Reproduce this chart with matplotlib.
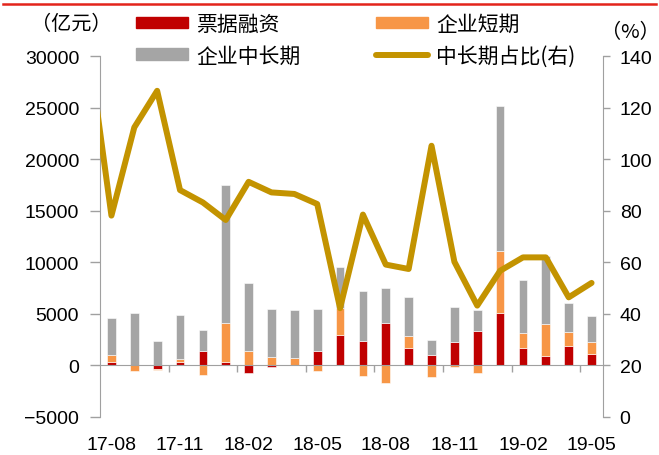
import numpy as np
import matplotlib
matplotlib.use("Agg")
import matplotlib.pyplot as plt
import matplotlib.patches as mpatches
from matplotlib.lines import Line2D

plt.rcParams['font.family'] = ['Liberation Sans', 'Noto Sans CJK SC', 'DejaVu Sans']

# Monthly new loans (亿元)
months = ["17-08", "17-09", "17-10", "17-11", "17-12", "18-01", "18-02", "18-03",
          "18-04", "18-05", "18-06", "18-07", "18-08", "18-09", "18-10", "18-11",
          "18-12", "19-01", "19-02", "19-03", "19-04", "19-05"]
bill_financing = [300, 20, -390, 330, 1360, 320, -780, -160, 30, 1360, 2920, 2370,
                  4090, 1690, 1050, 2310, 3340, 5130, 1650, 910, 1850, 1100]
short_term = [700, -550, -100, 250, -970, 3770, 1400, 810, 720, -550, 2600, -1040,
              -1750, 1130, -1120, -180, -780, 5940, 1530, 3150, 1430, 1210]
medium_long = [3640, 5030, 2340, 4300, 2080, 13370, 6590, 4640, 4670, 4090, 4030, 4870,
               3440, 3830, 1450, 3340, 2020, 14060, 5130, 6590, 2820, 2530]

# Share of medium/long-term loans (%), series starts one month earlier
ratio_months = ["17-07"] + months
ratio = [143.4, 78.1, 112.3, 126.5, 88.0, 83.2, 76.4, 91.2, 87.1, 86.5, 82.6, 42.2,
         78.5, 59.1, 57.4, 105.2, 60.2, 43.2, 56.7, 61.9, 61.9, 46.4, 52.0]

label_months = months[::3]

RED = "#C00000"
ORANGE = "#F79646"
GRAY = "#A5A5A5"
GOLD = "#C39300"
AXIS = "#A0A0A0"

W, H = 659, 456
fig = plt.figure(figsize=(W / 100, H / 100), dpi=100)
ax = fig.add_axes([100 / W, 1 - 418 / H, 503 / W, 361 / H])

x = np.arange(len(months))
pos_base = np.zeros(len(months))
neg_base = np.zeros(len(months))
for vals, col in [(bill_financing, RED), (short_term, ORANGE), (medium_long, GRAY)]:
    v = np.array(vals, dtype=float)
    base = np.where(v >= 0, pos_base, neg_base)
    ax.bar(x, v, bottom=base, width=0.38, color=col, edgecolor="white", linewidth=0.4, zorder=2)
    pos_base += np.where(v >= 0, v, 0)
    neg_base += np.where(v < 0, v, 0)

ax.set_xlim(-0.5, len(months) - 0.5)
ax.set_ylim(-5000, 30000)
ax.set_yticks(np.arange(-5000, 30001, 5000))
ax.tick_params(axis="y", direction="out", length=7, width=1, color=AXIS, pad=8, labelsize=14)

for s in ["top", "right"]:
    ax.spines[s].set_visible(False)
ax.spines["left"].set_color(AXIS)
ax.spines["bottom"].set_color(AXIS)
ax.spines["bottom"].set_position(("data", 0))

# tick marks on the zero line at every third category boundary
ax.set_xticks(np.arange(2.5, len(months) - 1, 3))
ax.set_xticklabels([])
ax.tick_params(axis="x", direction="out", length=5, width=1, color=AXIS)

# month labels along the bottom of the plot
sec = ax.secondary_xaxis(0.0)
sec.set_xticks(x[::3])
sec.set_xticklabels(label_months)
sec.tick_params(length=0, pad=14, labelsize=14)
sec.spines["bottom"].set_visible(False)

ax2 = ax.twinx()
ax2.set_ylim(0, 140)
ax2.set_yticks(np.arange(0, 141, 20))
ax2.tick_params(axis="y", direction="out", length=5, width=1, color=AXIS, pad=7, labelsize=14)
for s in ["top", "left", "bottom"]:
    ax2.spines[s].set_visible(False)
ax2.spines["right"].set_color(AXIS)

rx = np.arange(-1, len(months))
ax2.plot(rx, ratio, color=GOLD, lw=4.3, solid_joinstyle="round", solid_capstyle="round", zorder=3)

# legend
handles = [
    mpatches.Patch(color=RED, label="票据融资"),
    mpatches.Patch(color=GRAY, label="企业中长期"),
    mpatches.Patch(color=ORANGE, label="企业短期"),
    Line2D([], [], color=GOLD, lw=4.3, solid_capstyle="round", label="中长期占比(右)"),
]
fig.legend(handles=handles, ncol=2, loc="upper left", bbox_to_anchor=(136 / W, 1 - 14 / H),
           frameon=False, handlelength=2.5, handleheight=0.45,
           handletextpad=0.4, columnspacing=3.6, labelspacing=0.45, borderpad=0,
           borderaxespad=0, prop={"family": ["Noto Sans CJK SC"], "size": 15})

fig.text(71 / W, 1 - 25 / H, "（亿元）", ha="center", va="center", fontsize=14.5,
         family=["Noto Sans CJK SC"])
fig.text(630 / W, 1 - 33 / H, "（%）", ha="center", va="center", fontsize=14.5,
         family=["Noto Sans CJK SC"])

fig.add_artist(Line2D([0.005, 0.995], [1 - 5 / H] * 2, transform=fig.transFigure,
                      color="#E3241B", lw=1.8))

fig.savefig("out.png", dpi=100)
